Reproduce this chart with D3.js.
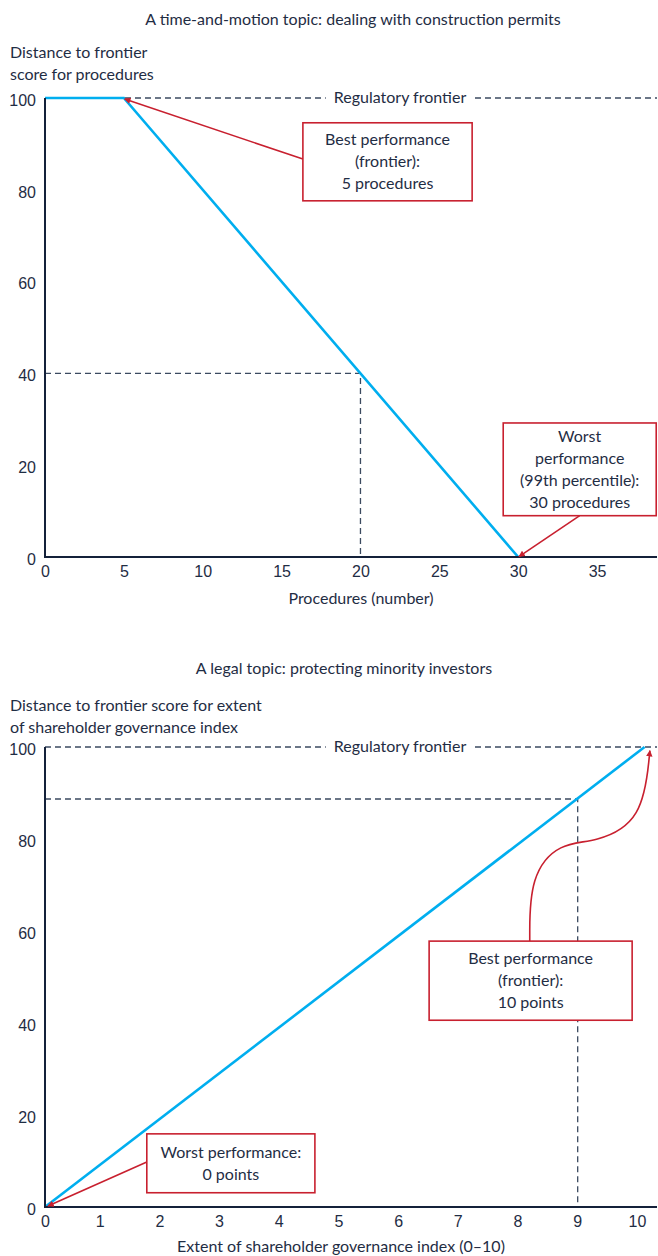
<!DOCTYPE html>
<html>
<head>
<meta charset="utf-8">
<script src="https://cdn.jsdelivr.net/npm/d3@7"></script>
<style>
  body { margin: 0; background: #fff; }
  svg { display: block; font-family: Lato, "Open Sans", sans-serif; }
  .txt { fill: #1f2d44; font-size: 16px; }
  .tick text { fill: #1f2d44; font-size: 16px; }
</style>
</head>
<body>
<script>
// panel 1: construction permits
var procTicks = [0, 5, 10, 15, 20, 25, 30, 35];
var procX = [0, 5, 30];
var procScore = [100, 100, 0];
var procGuide = [20, 40];

// panel 2: minority investors
var govTicks = [0, 1, 2, 3, 4, 5, 6, 7, 8, 9, 10];
var govX = [0, 10.13];
var govScore = [0, 100];
var govGuide = [9, 88.7];

var scoreTicks = [0, 20, 40, 60, 80, 100];

var W = 658, H = 1256;
var blue = '#00aeef', red = '#c8202f', ink = '#1f2d44', dash = '#3b4a60';

var svg = d3.select('body').append('svg')
  .attr('width', W)
  .attr('height', H);

var defs = svg.append('defs');
defs.append('marker')
  .attr('id', 'arr')
  .attr('viewBox', '0 0 10 10')
  .attr('refX', 9).attr('refY', 5)
  .attr('markerWidth', 4).attr('markerHeight', 4)
  .attr('markerUnits', 'strokeWidth')
  .attr('orient', 'auto')
  .append('path')
  .attr('d', 'M0,0L10,5L0,10z')
  .attr('fill', red);

function panel(o) {
  var x = d3.scaleLinear().domain(o.xDomain).range([45, 657]);
  var y = d3.scaleLinear().domain([0, 100]).range([o.bottom, o.top]);
  var g = svg.append('g');

  g.append('text').attr('class', 'txt')
    .attr('x', o.titleX).attr('y', o.titleY)
    .attr('text-anchor', 'middle')
    .text(o.title);

  g.selectAll('.ylab').data(o.yLabel).enter().append('text')
    .attr('class', 'txt')
    .attr('x', 10).attr('y', function(d, i) { return o.yLabelY + i * 21.5; })
    .text(function(d) { return d; });

  // frontier line
  g.append('line')
    .attr('x1', x(0)).attr('x2', 657)
    .attr('y1', y(100)).attr('y2', y(100))
    .attr('stroke', dash).attr('stroke-width', 1.3)
    .attr('stroke-dasharray', '6,4');

  // guide
  g.append('path')
    .attr('d', d3.line()([[x(0), y(o.guide[1])], [x(o.guide[0]), y(o.guide[1])], [x(o.guide[0]), y(0)]]))
    .attr('fill', 'none')
    .attr('stroke', dash).attr('stroke-width', 1.3)
    .attr('stroke-dasharray', '6,4');

  var lab = g.append('text').attr('class', 'txt')
    .attr('x', 400).attr('y', y(100) + 5)
    .attr('text-anchor', 'middle')
    .text('Regulatory frontier');
  var bb = lab.node().getBBox();
  g.insert('rect', 'text:last-of-type')
    .attr('x', bb.x - 8).attr('y', bb.y)
    .attr('width', bb.width + 16).attr('height', bb.height)
    .attr('fill', '#fff');
  lab.raise();

  // axes
  var xAxis = g.append('g')
    .attr('transform', 'translate(0,' + y(0) + ')')
    .call(d3.axisBottom(x).tickValues(o.xTicks).tickSize(0).tickPadding(9));
  xAxis.select('.domain').remove();
  if (o.tickShift) {
    xAxis.selectAll('.tick text').attr('dx', function(d) { return d === 0 ? 0 : o.tickShift(d); });
  }
  var yAxis = g.append('g')
    .attr('transform', 'translate(' + x(0) + ',0)')
    .call(d3.axisLeft(y).tickValues(scoreTicks).tickSize(0).tickPadding(9));
  yAxis.select('.domain').remove();
  yAxis.selectAll('.tick text').attr('dy', '0.45em');

  // the line
  var pts = o.xs.map(function(v, i) { return [x(v), y(o.ys[i])]; });
  g.append('path')
    .attr('d', d3.line()(pts))
    .attr('fill', 'none')
    .attr('stroke', blue).attr('stroke-width', 2.6);

  g.append('path')
    .attr('d', d3.line()([[x(0), y(100)], [x(0), y(0)], [657, y(0)]]))
    .attr('fill', 'none')
    .attr('stroke', '#14213a').attr('stroke-width', 2);

  g.append('text').attr('class', 'txt')
    .attr('x', o.xLabelX).attr('y', y(0) + o.xLabelDy)
    .attr('text-anchor', 'middle')
    .text(o.xLabel);

  // callouts
  o.notes.forEach(function(n) {
    var c = n.curve.map(function(p) { return [x(p[0]), y(p[1])]; });
    var gen = n.smooth ? d3.line().curve(d3.curveBasis) : d3.line();
    g.append('path')
      .attr('d', gen(c))
      .attr('fill', 'none')
      .attr('stroke', red).attr('stroke-width', 1.6)
      .attr('marker-end', 'url(#arr)');
    var x0 = x(n.box[0]), x1 = x(n.box[1]), y0 = y(n.box[2]), y1 = y(n.box[3]);
    g.append('rect')
      .attr('x', x0).attr('y', y0)
      .attr('width', x1 - x0).attr('height', y1 - y0)
      .attr('fill', '#fff')
      .attr('stroke', red).attr('stroke-width', 1.6);
    var n0 = (y0 + y1) / 2 - (n.lines.length - 1) * 11;
    g.selectAll(null).data(n.lines).enter().append('text')
      .attr('class', 'txt')
      .attr('x', (x0 + x1) / 2)
      .attr('y', function(d, i) { return n0 + i * 22 + 5.5; })
      .attr('text-anchor', 'middle')
      .text(function(d) { return d; });
  });
}

panel({
  title: 'A time-and-motion topic: dealing with construction permits',
  titleX: 353, titleY: 25,
  yLabel: ['Distance to frontier', 'score for procedures'],
  yLabelY: 58,
  xLabel: 'Procedures (number)', xLabelX: 361, xLabelDy: 47,
  xDomain: [0, 38.8], xTicks: procTicks,
  top: 98, bottom: 557,
  xs: procX, ys: procScore, guide: procGuide,
  notes: [
    { box: [16.35, 27.08, 94.6, 77.6],
      curve: [[16.35, 86.7], [5.05, 99.8]],
      lines: ['Best performance', '(frontier):', '5 procedures'] },
    { box: [29.05, 38.75, 29.2, 9.0],
      curve: [[33.9, 9.0], [30.05, 0.1]],
      lines: ['Worst', 'performance', '(99th percentile):', '30 procedures'] }
  ]
});

panel({
  title: 'A legal topic: protecting minority investors',
  titleX: 344, titleY: 674,
  yLabel: ['Distance to frontier score for extent', 'of shareholder governance index'],
  yLabelY: 711,
  xLabel: 'Extent of shareholder governance index (0\u201310)', xLabelX: 341, xLabelDy: 45,
  xDomain: [0, 10.34], xTicks: govTicks,
  tickShift: function(d) { return -5 + d * 0.5; },
  top: 747, bottom: 1207,
  xs: govX, ys: govScore, guide: govGuide,
  notes: [
    { box: [6.49, 9.92, 57.8, 40.6],
      smooth: true,
      curve: [[8.19, 57.8], [8.19, 72], [8.7, 79.3], [9.3, 79.2], [10.1, 84], [10.22, 99.2]],
      lines: ['Best performance', '(frontier):', '10 points'] },
    { box: [1.72, 4.56, 15.9, 3.1],
      curve: [[1.72, 9.8], [0.05, 0.2]],
      lines: ['Worst performance:', '0 points'] }
  ]
});
</script>
</body>
</html>
